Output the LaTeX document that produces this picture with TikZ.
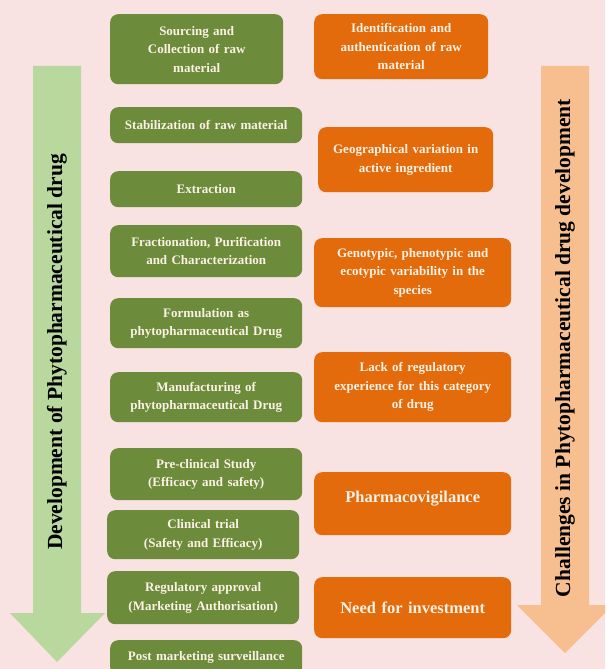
\documentclass[tikz,border=0pt]{standalone}
\usepackage{fontspec}
\setmainfont{Liberation Serif}

\definecolor{bgpink}{HTML}{F9E2E2}
\definecolor{stagegreen}{HTML}{6C8B3B}
\definecolor{issueorange}{HTML}{E36B0B}
\definecolor{devarrow}{HTML}{B8D89E}
\definecolor{challarrow}{HTML}{F7BF90}
\definecolor{boxtext}{HTML}{FBF1E4}

\newcommand*\boxfont{\bfseries\fontsize{13}{18.5}\selectfont}
\newcommand*\bigboxfont{\bfseries\fontsize{16.5}{20}\selectfont}
\newcommand*\sidefont{\bfseries\fontsize{21.5}{24}\selectfont}
\tikzset{stage/.style 2 args={
    fill=stagegreen,
    rounded corners=8pt,
    anchor=north west,
    inner sep=2pt,
    font=\boxfont,
    text=boxtext,
    minimum width=#1,
    minimum height=#2,
    text width={(#1-8)*1pt},
    align=center
},
issue/.style 2 args={
    stage={#1}{#2},
    fill=issueorange
}}

\begin{document}
\begin{tikzpicture}[x=1pt,y=-1pt]
    \useasboundingbox (0,0) rectangle (605,669);
    \clip (0,0) rectangle (605,669);
    \fill[bgpink] (0,0) rectangle (605,669);

    % The two big arrows at the sides.
    \fill[devarrow] (33,66) -- (81,66) -- (81,613) -- (105,613) -- (57,662)
        -- (10,613) -- (33,613) -- cycle;
    \fill[challarrow] (541,66) -- (589,66) -- (589,605) -- (613,605) -- (565,653)
        -- (517,605) -- (541,605) -- cycle;
    \node[rotate=90,font=\sidefont] (devlabel) at (57,352) {Development of Phytopharmaceutical drug};
    \node[rotate=90,font=\sidefont] (challlabel) at (565,348) {Challenges in Phytopharmaceutical drug development};

    % Steps of the development, top to bottom.
    \node[stage={173}{70}] (sourcing) at (110,14) {Sourcing and\\ Collection of raw\\ material};
    \node[stage={192}{36}] (stabilization) at (110,107) {Stabilization of raw material};
    \node[stage={192}{36}] (extraction) at (110,171) {Extraction};
    \node[stage={192}{52}] (fractionation) at (110,225) {Fractionation, Purification\\ and Characterization};
    \node[stage={192}{50}] (formulation) at (110,298) {Formulation as\\ phytopharmaceutical Drug};
    \node[stage={192}{50}] (manufacturing) at (110,372) {Manufacturing of\\ phytopharmaceutical Drug};
    \node[stage={192}{52}] (preclinical) at (110,448) {Pre-clinical Study\\ (Efficacy and safety)};
    \node[stage={192}{49}] (clinical) at (107,510) {Clinical trial\\ (Safety and Efficacy)};
    \node[stage={192}{53}] (approval) at (107,571) {Regulatory approval\\ (Marketing Authorisation)};
    \node[stage={192}{35}] (surveillance) at (110,640) {Post marketing surveillance};

    % The challenges, same order.
    \node[issue={174}{65}] (identification) at (314,14) {Identification and\\ authentication of raw\\ material};
    \node[issue={175}{65}] (geography) at (318,127) {Geographical variation in\\ active ingredient};
    \node[issue={197}{69}] (variability) at (314,238) {Genotypic, phenotypic and\\ ecotypic variability in the\\ species};
    \node[issue={197}{70}] (regulatory) at (314,352) {Lack of regulatory\\ experience for this category\\ of drug};
    \node[issue={197}{63},font=\bigboxfont,text depth=14pt] (vigilance) at (314,472) {Pharmacovigilance};
    \node[issue={197}{61},font=\bigboxfont] (investment) at (314,577) {Need for investment};
\end{tikzpicture}
\end{document}
